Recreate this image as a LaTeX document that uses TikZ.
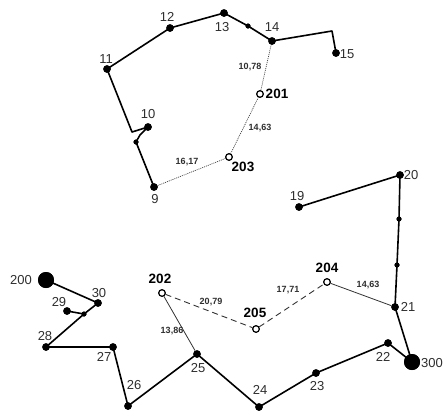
\documentclass[tikz,border=0pt]{standalone}
\usepackage{fontspec}
\setmainfont{Liberation Sans}
\definecolor{labgray}{HTML}{2E2E2E}
\begin{document}
\begin{tikzpicture}[x=1pt,y=-1pt,
  dot/.style={circle,fill=black,inner sep=0,minimum size=7.5pt},
  sdot/.style={circle,fill=black,inner sep=0,minimum size=5pt},
  bdot/.style={circle,fill=black,inner sep=0,minimum size=16pt},
  odot/.style={circle,draw=black,line width=1.1pt,fill=white,inner sep=0,minimum size=6.5pt},
  lab/.style={text=labgray,inner sep=0,font=\fontsize{13}{14}\selectfont},
  blab/.style={text=black,inner sep=0,font=\fontsize{13.5}{14}\selectfont\bfseries},
  dlab/.style={text=labgray,inner sep=0,font=\fontsize{9}{10}\selectfont\bfseries},
  route/.style={line width=1.6pt,line join=round},
  thinlink/.style={line width=0.8pt,black!80},
  dashlink/.style={line width=0.9pt,black!80,dash pattern=on 6pt off 4pt},
  dotlink/.style={line width=0.7pt,black!75,dash pattern=on 1pt off 1pt}]
\useasboundingbox (0,0) rectangle (446,413);
% upper group
\node[dot] (n12) at (170,28) {};
\node[dot] (n13) at (224,13) {};
\node[sdot] (s1314) at (248,26) {};
\node[dot] (n14) at (272,41) {};
\coordinate (c15) at (332,31);
\node[dot] (n15) at (336,53) {};
\node[dot] (n11) at (107,69) {};
\coordinate (c10) at (132,132);
\node[dot] (n10) at (148,127) {};
\coordinate (k10) at (140,135);
\node[sdot] (s109) at (136,142) {};
\node[dot] (n9) at (154,187) {};
\node[odot] (n201) at (260,94) {};
\node[odot] (n203) at (229,157) {};
% lower group
\node[dot] (n19) at (299,207) {};
\node[dot] (n20) at (400,175) {};
\node[sdot] (s2021a) at (399,219) {};
\node[sdot] (s2021b) at (397,265) {};
\node[dot] (n21) at (395,307) {};
\node[bdot] (n300) at (412,362) {};
\node[dot] (n22) at (388,343) {};
\node[dot] (n23) at (316,373) {};
\node[dot] (n24) at (259,407) {};
\node[dot] (n25) at (197,354) {};
\node[dot] (n26) at (128,406) {};
\node[dot] (n27) at (113,347) {};
\node[dot] (n28) at (46,347) {};
\node[sdot] (j29) at (84,314) {};
\node[dot] (n29) at (67,311) {};
\node[dot] (n30) at (98,303) {};
\node[bdot] (n200) at (46,280) {};
\node[odot] (n202) at (162,293) {};
\node[odot] (n204) at (327,282) {};
\node[odot] (n205) at (256,329) {};
% routes
\draw[route] (n15.center) -- (c15) -- (n14.center) -- (s1314.center) -- (n13.center) -- (n12.center) -- (n11.center) -- (c10) -- (n10.center) -- (k10) -- (s109.center) -- (n9.center);
\draw[route] (n19.center) -- (n20.center) -- (s2021a.center) -- (s2021b.center) -- (n21.center) -- (n300.center) -- (n22.center) -- (n23.center) -- (n24.center) -- (n25.center) -- (n26.center) -- (n27.center) -- (n28.center) -- (j29.center) -- (n30.center) -- (n200.center);
\draw[route] (n29.center) -- (j29.center);
% links
\draw[dotlink] (n9) -- (n203);
\draw[dotlink] (n203) -- (n201);
\draw[dotlink] (n201) -- (n14);
\draw[thinlink] (n202) -- (n25);
\draw[thinlink] (n204) -- (n21);
\draw[dashlink] (n202) -- (n205);
\draw[dashlink] (n205) -- (n204);
% redraw dots on top
\foreach \n in {n12,n13,n14,n15,n11,n10,n9,n19,n20,n21,n22,n23,n24,n25,n26,n27,n28,n29,n30}
  \fill (\n) circle (3.75pt);
\foreach \n in {s1314,s109,s2021a,s2021b,j29}
  \fill (\n) circle (2.5pt);
\fill (n300) circle (8pt);
\fill (n200) circle (8pt);
\foreach \n in {n201,n203,n202,n204,n205}
  \draw[line width=1.1pt,fill=white] (\n) circle (3.25pt);
% labels
\node[lab] (l12) at (167,17) {12};
\node[lab] (l13) at (222,27) {13};
\node[lab] (l14) at (272,27) {14};
\node[lab] (l15) at (347,54) {15};
\node[lab] (l11) at (106,59) {11};
\node[lab] (l10) at (148,114) {10};
\node[lab] (l9) at (155,199) {9};
\node[lab] (l19) at (297,196) {19};
\node[lab] (l20) at (411,175) {20};
\node[lab] (l21) at (408,307) {21};
\node[lab] (l300) at (432,363) {300};
\node[lab] (l22) at (383,357) {22};
\node[lab] (l23) at (317,386) {23};
\node[lab] (l24) at (260,390) {24};
\node[lab] (l25) at (198,368) {25};
\node[lab] (l26) at (134,385) {26};
\node[lab] (l27) at (104,357) {27};
\node[lab] (l28) at (45,336) {28};
\node[lab] (l29) at (59,302) {29};
\node[lab] (l30) at (99,293) {30};
\node[lab] (l200) at (21,280) {200};
\node[blab] (l201) at (277,94) {201};
\node[blab] (l203) at (243,167) {203};
\node[blab] (l202) at (160,279) {202};
\node[blab] (l204) at (327,268) {204};
\node[blab] (l205) at (255,313) {205};
\node[dlab] (d1) at (250,67) {10,78};
\node[dlab] (d2) at (260,128) {14,63};
\node[dlab] (d3) at (187,162) {16,17};
\node[dlab] (d4) at (172,331) {13,86};
\node[dlab] (d5) at (211,302) {20,79};
\node[dlab] (d6) at (288,290) {17,71};
\node[dlab] (d7) at (368,285) {14,63};
\end{tikzpicture}
\end{document}
